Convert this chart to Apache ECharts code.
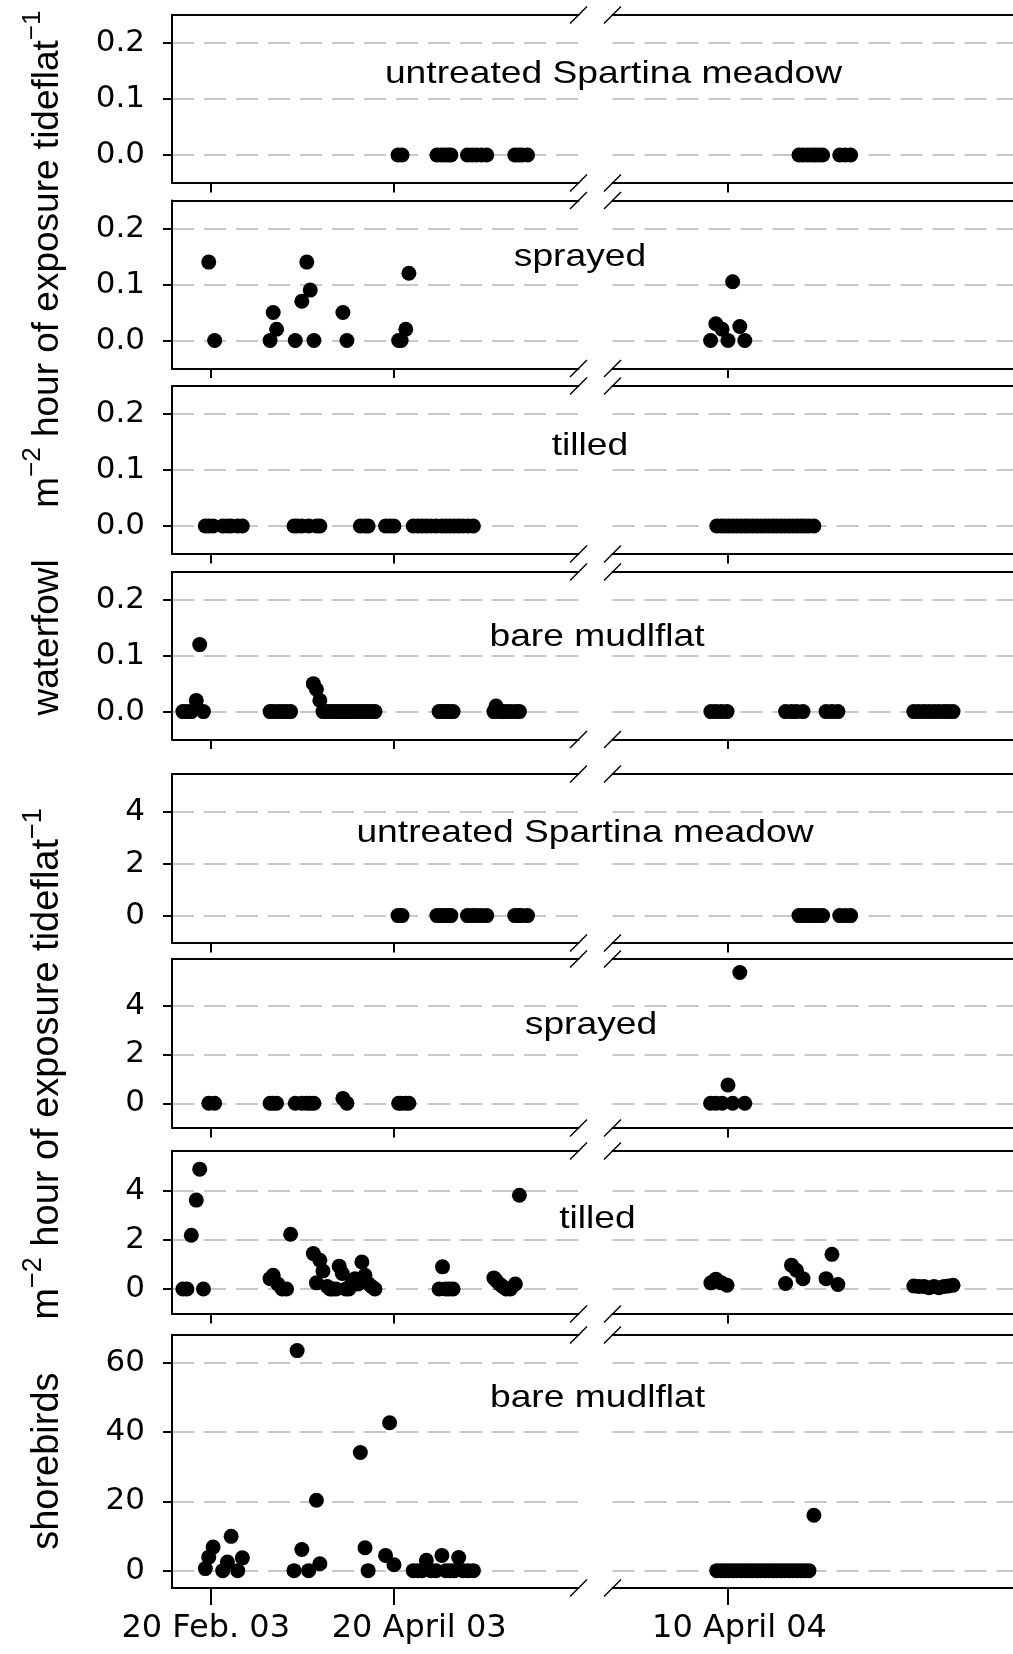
<!DOCTYPE html>
<html><head><meta charset="utf-8">
<script src="https://cdn.jsdelivr.net/npm/echarts@6/dist/echarts.min.js"></script>
<style>html,body{margin:0;padding:0;background:#fff}#c{width:1013px;height:1654px}</style>
</head><body><div id="c"></div>
<script>
// x values are days since 20 Feb 2003
const tickDays = [0, 59, 415];
const tickLabelDays = [-1.45, 67.1, 418.7];
const tickLabels = ['20 Feb. 03', '20 April 03', '10 April 04'];

const yTicksWaterfowl = [0, 0.1, 0.2];
const yTicksShore = [0, 2, 4];
const yTicksShoreBare = [0, 20, 40, 60];

const untreatedDays = [60.3, 61.6, 72.8, 74.1, 75.2, 76.4, 77.3, 82.6, 84.1, 85.5, 87.1, 88.8, 97.8, 99.0, 100.1, 101.9,
  437.8, 439.1, 440.4, 441.7, 442.9, 444.2, 445.4, 450.9, 452.6, 454.4];
const wfUntreated = [0,0,0,0,0,0,0,0,0,0,0,0,0,0,0,0, 0,0,0,0,0,0,0,0,0,0];
const sbUntreated = [0,0,0,0,0,0,0,0,0,0,0,0,0,0,0,0, 0,0,0,0,0,0,0,0,0,0];

const sprayedDays = [-0.5, 1.4, 19.2, 20.2, 21.3, 27.3, 29.4, 31.0, 32.1, 33.3, 42.6, 43.9, 60.5, 61.3, 62.8, 63.8,
  409.4, 411.1, 413.1, 415.0, 416.5, 418.8, 420.4];
const wfSprayed = [0.14, 0, 0, 0.05, 0.02, 0, 0.07, 0.14, 0.09, 0, 0.05, 0, 0, 0, 0.02, 0.12,
  0, 0.03, 0.02, 0, 0.105, 0.025, 0];
const sbSprayed = [0, 0, 0, 0, 0, 0, 0, 0, 0, 0, 0.2, 0, 0, 0, 0, 0,
  0, 0, 0, 0.75, 0, 5.35, 0];

// sampling dates of waterfowl "tilled" / shorebird "bare mudlflat"
const datesA = [-1.6, -0.5, 0.9, 4.0, 5.5, 6.7, 8.8, 10.3,
  26.9, 27.9, 29.4, 31.6, 34.1, 35.2,
  48.2, 49.7, 50.7, 56.3, 57.6, 59.0,
  65.2, 66.7, 68.0, 69.4, 70.9, 72.5, 74.4, 75.7, 77.0, 78.4, 79.8, 81.2, 82.8, 84.5,
  411.4, 412.8, 414.0, 415.3, 416.6, 417.9, 419.2, 420.5, 421.7, 423.0, 424.3, 425.6, 426.9,
  428.2, 429.5, 430.7, 432.0, 433.3, 434.6, 435.9, 437.2, 438.5, 439.7, 441.0, 442.6];
const wfTilled = [0,0,0,0,0,0,0,0, 0,0,0,0,0,0, 0,0,0,0,0,0, 0,0,0,0,0,0,0,0,0,0,0,0,0,0,
  0,0,0,0,0,0,0,0,0,0,0,0,0, 0,0,0,0,0,0,0,0,0,0,0,0];
const sbBare = [0.6, 3.9, 6.8, 0, 2.5, 9.9, 0, 3.7,
  0, 63.5, 6.1, 0, 20.3, 2.0,
  34.1, 6.6, 0, 4.4, 42.7, 1.7,
  0, 0, 0, 3.0, 0, 0, 4.4, 0, 0, 0, 3.8, 0, 0, 0,
  0,0,0,0,0,0,0,0,0,0,0,0,0, 0,0,0,0,0,0,0,0,0,0,0, 16.0];

// sampling dates of waterfowl "bare mudlflat" / shorebird "tilled"
const datesB = [-8.8, -7.5, -6.1, -4.5, -3.4, -2.2,
  19.2, 20.2, 21.7, 23.1, 24.5, 25.8,
  33.1, 34.1, 35.2, 36.2, 37.6, 38.5, 39.3, 40.4, 41.4, 42.4, 43.5, 44.5, 45.5, 46.5, 47.4, 48.7, 49.7, 50.7, 51.8, 52.9,
  73.5, 74.6, 75.7, 76.8, 78.0,
  91.1, 91.8, 92.9, 93.9, 95.1, 96.4, 98.0, 99.3,
  409.5, 411.1, 412.9, 414.7,
  433.5, 435.4, 437.0, 439.1,
  446.5, 448.4, 450.3,
  474.7, 476.3, 478.0, 479.6, 481.2, 482.8, 484.4, 485.8, 487.3];
const wfBare = [0, 0, 0, 0.02, 0.12, 0,
  0, 0, 0, 0, 0, 0,
  0.05, 0.04, 0.02, 0, 0, 0, 0, 0, 0, 0, 0, 0, 0, 0, 0, 0, 0, 0, 0, 0,
  0, 0, 0, 0, 0,
  0, 0.01, 0, 0, 0, 0, 0, 0,
  0, 0, 0, 0,
  0, 0, 0, 0,
  0, 0, 0,
  0, 0, 0, 0, 0, 0, 0, 0, 0];
const sbTilled = [0, 0, 2.19, 3.62, 4.88, 0,
  0.42, 0.56, 0.2, 0, 0, 2.23,
  1.44, 0.25, 1.17, 0.73, 0.1, 0, 0, 0, 0.93, 0.63, 0, 0, 0.22, 0.42, 0.2, 1.1, 0.56, 0.22, 0.1, 0,
  0, 0.9, 0, 0, 0,
  0.45, 0.35, 0.2, 0.1, 0, 0, 0.2, 3.82,
  0.25, 0.4, 0.25, 0.15,
  0.22, 0.97, 0.76, 0.42,
  0.42, 1.41, 0.18,
  0.12, 0.1, 0.1, 0.05, 0.1, 0.05, 0.1, 0.12, 0.15];

// ---------------- layout ----------------
const FONT = "'Liberation Sans', Arial, Helvetica, sans-serif";
const TICK_FONT = "'DejaVu Sans', 'Liberation Sans', Arial, sans-serif";
const PLOT_LEFT = 172, BREAK_L = 578.5, BREAK_R = 612.5, RIGHT_W = 500, PX_PER_DAY = 3.113;
const LEFT_MIN = -12.3, RIGHT_MIN = 377.9;
const segs = [
  {left: PLOT_LEFT, width: BREAK_L - PLOT_LEFT, min: LEFT_MIN, max: LEFT_MIN + (BREAK_L - PLOT_LEFT) / PX_PER_DAY},
  {left: BREAK_R, width: RIGHT_W, min: RIGHT_MIN, max: RIGHT_MIN + RIGHT_W / PX_PER_DAY}
];

const panels = [
  {top: 15,    h: 168,   min: -0.05, max: 0.25, ticks: yTicksWaterfowl, dec: 1, days: untreatedDays, vals: wfUntreated, title: 'untreated Spartina meadow', tx: 613.5, ty: 74.5},
  {top: 200.5, h: 168,   min: -0.05, max: 0.25, ticks: yTicksWaterfowl, dec: 1, days: sprayedDays, vals: wfSprayed, title: 'sprayed', tx: 580, ty: 258},
  {top: 386,   h: 168,   min: -0.05, max: 0.25, ticks: yTicksWaterfowl, dec: 1, days: datesA, vals: wfTilled, title: 'tilled', tx: 590, ty: 447},
  {top: 572,   h: 167.5, min: -0.05, max: 0.25, ticks: yTicksWaterfowl, dec: 1, days: datesB, vals: wfBare, title: 'bare mudlflat', tx: 597, ty: 637.5},
  {top: 774,   h: 169,   min: -1.06, max: 5.48, ticks: yTicksShore, dec: 0, days: untreatedDays, vals: sbUntreated, title: 'untreated Spartina meadow', tx: 585, ty: 834},
  {top: 959,   h: 169,   min: -1.01, max: 5.9,  ticks: yTicksShore, dec: 0, days: sprayedDays, vals: sbSprayed, title: 'sprayed', tx: 591, ty: 1025.5},
  {top: 1151,  h: 163,   min: -1.02, max: 5.62, ticks: yTicksShore, dec: 0, days: datesB, vals: sbTilled, title: 'tilled', tx: 597.5, ty: 1220},
  {top: 1335,  h: 253,   min: -5,    max: 68,   ticks: yTicksShoreBare, dec: 0, days: datesA, vals: sbBare, title: 'bare mudlflat', tx: 597.5, ty: 1399}
];

const grid = [], xAxis = [], yAxis = [], series = [], gfx = [];
const black = '#000';

panels.forEach((p, pi) => {
  const isLast = pi === panels.length - 1;
  segs.forEach((s, si) => {
    const g = grid.length;
    grid.push({left: s.left, top: p.top, width: s.width, height: p.h, containLabel: false, outerBoundsMode: 'none', show: false});
    const inRange = v => v >= s.min && v <= s.max;
    const lblVals = tickLabelDays.filter(inRange);
    xAxis.push({
      type: 'value', gridIndex: g, position: 'bottom', min: s.min, max: s.max,
      axisLine: {show: true, onZero: false, lineStyle: {color: black, width: 2}},
      axisTick: {show: true, inside: false, length: isLast ? 17 : 9.5, customValues: tickDays.filter(inRange), lineStyle: {color: black, width: 2}},
      axisLabel: {show: isLast, customValues: lblVals, margin: 25, color: black, fontSize: 32, fontFamily: TICK_FONT,
        formatter: v => { let best = 0; tickLabelDays.forEach((d, i) => { if (Math.abs(d - v) < Math.abs(tickLabelDays[best] - v)) best = i; }); return tickLabels[best]; }},
      splitLine: {show: false}
    });
    xAxis.push({
      type: 'value', gridIndex: g, position: 'top', min: s.min, max: s.max,
      axisLine: {show: true, onZero: false, lineStyle: {color: black, width: 2}},
      axisTick: {show: false}, axisLabel: {show: false}, splitLine: {show: false}
    });
    yAxis.push({
      type: 'value', gridIndex: g, position: 'left', min: p.min, max: p.max,
      axisLine: {show: si === 0, onZero: false, lineStyle: {color: black, width: 2}},
      axisTick: {show: si === 0, length: 9, customValues: p.ticks, lineStyle: {color: black, width: 2}},
      axisLabel: {show: si === 0, customValues: p.ticks, margin: 27, color: black, fontSize: 31, fontFamily: TICK_FONT,
        formatter: v => p.dec ? v.toFixed(p.dec) : String(Math.round(v))},
      splitLine: {show: true, lineStyle: {color: '#c8c8c8', width: 1.8, type: [22, 10]}}
    });
    const data = [];
    p.days.forEach((d, i) => { if (inRange(d)) data.push([d, p.vals[i]]); });
    series.push({
      type: 'scatter', xAxisIndex: 2 * g, yAxisIndex: g, data,
      symbol: 'circle', symbolSize: 15, itemStyle: {color: black, opacity: 1},
      silent: true, clip: true, emphasis: {disabled: true}
    });
  });
  [p.top, p.top + p.h].forEach(y => {
    [BREAK_L, BREAK_R].forEach(cx => {
      gfx.push({type: 'line', silent: true, z: 100,
        shape: {x1: cx - 8.5, y1: y + 8.5, x2: cx + 8.5, y2: y - 8.5},
        style: {stroke: black, lineWidth: 1.5}});
    });
  });
  gfx.push({type: 'text', x: p.tx, y: p.ty, scaleX: 1.22, silent: true, z: 100,
    style: {text: p.title, fontSize: 30.5, fontFamily: FONT, fill: black, align: 'center', verticalAlign: 'middle'}});
});

function yTitle(first, cy, size, supSize) {
  return {
    type: 'text', x: 47.5, y: cy, rotation: Math.PI / 2, silent: true, z: 100,
    style: {
      text: '{n|' + first + '     m}{s|\u22122}{n| hour of exposure tideflat}{s|\u22121}',
      rich: {
        n: {fontSize: size, fontFamily: FONT, lineHeight: 55, fill: black},
        s: {fontSize: supSize, fontFamily: FONT, lineHeight: supSize, verticalAlign: 'top', fill: black}
      },
      align: 'center', verticalAlign: 'middle'
    }
  };
}
gfx.push(yTitle('waterfowl', 363, 37, 26));
gfx.push(yTitle('shorebirds', 1179, 38, 27));

const chart = echarts.init(document.getElementById('c'), null, {renderer: 'canvas', width: 1013, height: 1654});
chart.setOption({
  animation: false,
  backgroundColor: '#fff',
  grid, xAxis, yAxis, series,
  graphic: {elements: gfx}
});
</script>
</body></html>
